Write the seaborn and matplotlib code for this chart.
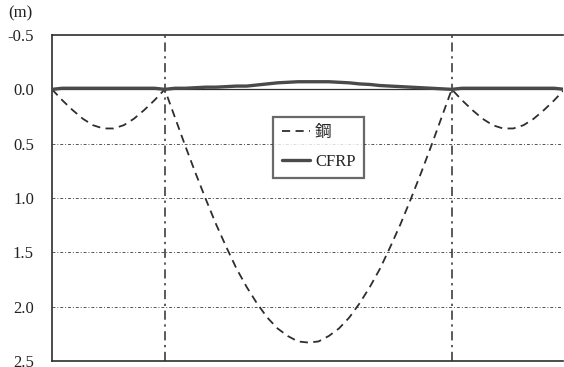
import numpy as np
import pandas as pd
import matplotlib
matplotlib.use("Agg")
import matplotlib.pyplot as plt
import seaborn as sns

# Position along the three-span bridge (m); supports at 44 m and 156 m
position = [0, 4, 8, 12, 16, 20, 24, 28, 32, 36, 40, 44,
            48, 52, 56, 60, 64, 68, 72, 76, 80, 84, 88, 92, 96, 100,
            104, 108, 112, 116, 120, 124, 128, 132, 136, 140, 144, 148, 152, 156,
            160, 164, 168, 172, 176, 180, 184, 188, 192, 196, 200]

# Vertical deflection (m), positive downward
steel = [0.00, 0.10, 0.19, 0.27, 0.33, 0.36, 0.36, 0.33, 0.27, 0.19, 0.10, 0.00,
         0.26, 0.52, 0.77, 1.01, 1.24, 1.45, 1.65, 1.82, 1.97, 2.10, 2.20, 2.27, 2.32, 2.33,
         2.32, 2.27, 2.20, 2.10, 1.97, 1.82, 1.65, 1.45, 1.24, 1.01, 0.77, 0.52, 0.26, 0.00,
         0.10, 0.19, 0.27, 0.33, 0.36, 0.36, 0.33, 0.27, 0.19, 0.10, 0.00]

cfrp = [0.00, -0.01, -0.01, -0.01, -0.01, -0.01, -0.01, -0.01, -0.01, -0.01, -0.01, 0.00,
        -0.01, -0.01, -0.015, -0.02, -0.02, -0.025, -0.03, -0.03, -0.04, -0.05, -0.06, -0.065, -0.07, -0.07,
        -0.07, -0.07, -0.065, -0.06, -0.05, -0.045, -0.035, -0.03, -0.025, -0.02, -0.015, -0.01, -0.005, 0.00,
        -0.01, -0.01, -0.01, -0.01, -0.01, -0.01, -0.01, -0.01, -0.01, -0.01, 0.00]

supports = [44, 156]
y_ticks = [-0.5, 0.0, 0.5, 1.0, 1.5, 2.0, 2.5]
y_ticklabels = ["-0.5", "0.0", "0.5", "1.0", "1.5", "2.0", "2.5"]
grid_levels = [0.5, 1.0, 1.5, 2.0]
label_steel = "鋼"
label_cfrp = "CFRP"

sns.set_style("white")
plt.rcParams["font.family"] = ["Liberation Serif", "Noto Sans CJK JP"]

df = pd.DataFrame({"x": position, "鋼": steel, "CFRP": cfrp})

fig = plt.figure(figsize=(5.64, 3.67), dpi=100)
ax = fig.add_axes([0.0922, 0.0163, 0.906, 0.8883])

ink = "#2e2e2e"

# Horizontal dotted guide lines
for g in grid_levels:
    ax.axhline(g, color="#555555", lw=0.7, ls=(0, (3, 2, 1, 2)), zorder=1)
ax.axhline(0.0, color=ink, lw=0.9, zorder=2)

# Support locations
for s in supports:
    ax.axvline(s, color=ink, lw=1.1, ls=(0, (6, 3, 1.5, 3)), zorder=2)

sns.lineplot(data=df, x="x", y="鋼", ax=ax, color=ink, lw=1.3,
             linestyle=(0, (4.5, 3)), estimator=None, sort=False,
             label=label_steel, zorder=3)
sns.lineplot(data=df, x="x", y="CFRP", ax=ax, color="#4a4a4a", lw=2.4,
             estimator=None, sort=False, label=label_cfrp, zorder=4)

ax.set_xlim(0, 199.4)
ax.set_ylim(2.5, -0.5)
ax.set_xticks([])
ax.set_yticks(y_ticks)
ax.set_yticklabels(y_ticklabels, fontsize=12, color="#222222")
ax.tick_params(axis="y", length=0, pad=13)
ax.set_xlabel("")
ax.set_ylabel("")

for side in ["left", "top", "bottom"]:
    ax.spines[side].set_color(ink)
    ax.spines[side].set_linewidth(1.2)
ax.spines["right"].set_visible(False)

fig.text(8 / 564, 1 - 13 / 367, "(m)", fontsize=12, color="#222222",
         ha="left", va="center")

leg = ax.legend(loc="center", bbox_to_anchor=(0.522, 0.655), fontsize=12,
                frameon=True, fancybox=False, shadow=False, handlelength=1.7,
                handletextpad=0.3, borderpad=0.5, labelspacing=0.75,
                borderaxespad=0)
leg.get_frame().set_edgecolor("#444444")
leg.get_frame().set_linewidth(1.6)
leg.get_frame().set_facecolor("white")
leg.set_zorder(5)

fig.savefig("out.png", dpi=100)
